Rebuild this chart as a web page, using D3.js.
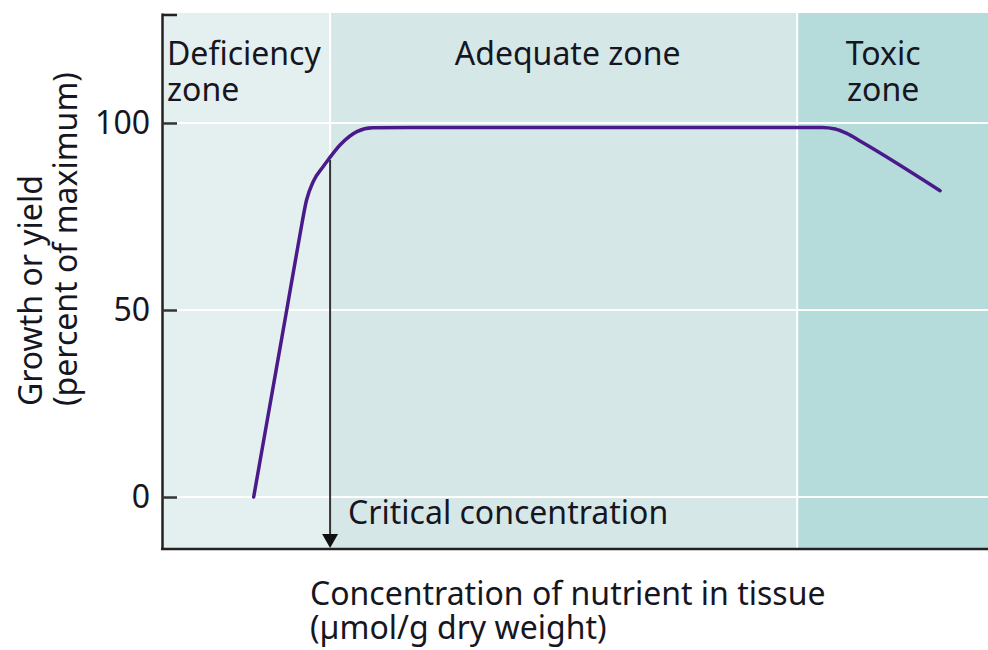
<!DOCTYPE html>
<html>
<head>
<meta charset="UTF-8">
<style>
  body { margin: 0; background: #fff; }
  svg { display: block; }
  text { font-family: "Noto Sans", "Open Sans", sans-serif; fill: #161622; }
</style>
<script src="https://d3js.org/d3.v7.min.js"></script>
</head>
<body>
<div id="chart"></div>
<script>

// zones along the concentration axis (arbitrary units 0-100)
var zoneNames = [["Deficiency", "zone"], ["Adequate zone"], ["Toxic", "zone"]];
var zoneStart = [0, 20.35, 76.9];
var zoneEnd = [20.35, 76.9, 100];
var zoneColors = ["#e4f0f0", "#d5e8e7", "#b5dcdb"];

// response curve
var concX = [11.1, 13.1, 15.1, 16.7, 17.5, 18.3, 19.5, 20.1, 21.55, 23.6, 25.5, 30, 50, 70, 79.9, 81.5, 82.9, 84.5, 94.2];
var growthY = [0, 25, 50, 70.1, 79.4, 84.3, 88.3, 90.1, 94.1, 97.7, 98.7, 98.8, 98.8, 98.8, 98.8, 98.4, 97.2, 95.2, 81.9];

var yTicks = [0, 50, 100];
var criticalX = 20.35;

var W = 988, H = 650;
// careful: "top" is taken by window.top
var mLeft = 162, mRight = 988, mTop = 13, mBottom = 549;
var fs = "32px";

var svg = d3.select("#chart").append("svg")
  .attr("width", W)
  .attr("height", H);

var x = d3.scaleLinear().domain([0, 100]).range([mLeft, mRight]);
var y = d3.scaleLinear().domain([-13.9, 129.4]).range([mBottom, mTop]);

// zone backgrounds
svg.selectAll("rect.zone")
  .data(zoneStart)
  .enter().append("rect")
  .attr("class", "zone")
  .attr("x", function(d) { return x(d); })
  .attr("y", mTop)
  .attr("width", function(d, i) { return x(zoneEnd[i]) - x(d); })
  .attr("height", mBottom - mTop)
  .style("fill", function(d, i) { return zoneColors[i]; });

// white grid lines
svg.selectAll("line.grid")
  .data(yTicks)
  .enter().append("line")
  .attr("class", "grid")
  .attr("x1", mLeft).attr("x2", mRight)
  .attr("y1", function(d) { return y(d); })
  .attr("y2", function(d) { return y(d); })
  .style("stroke", "#fff")
  .style("stroke-width", 2);

svg.selectAll("line.sep")
  .data(zoneStart.slice(1))
  .enter().append("line")
  .attr("class", "sep")
  .attr("x1", function(d) { return x(d); })
  .attr("x2", function(d) { return x(d); })
  .attr("y1", mTop).attr("y2", mBottom)
  .style("stroke", "#fff")
  .style("stroke-width", 2);

// zone labels
zoneNames.forEach(function(lines, i) {
  var cx, anchor;
  if (i == 0) { cx = x(zoneStart[0]) + 5; anchor = "start"; }
  else if (i == 1) { cx = (x(zoneStart[1]) + x(zoneEnd[1])) / 2 + 4; anchor = "middle"; }
  else { cx = x(zoneStart[2]) + 86; anchor = "middle"; }
  lines.forEach(function(t, j) {
    svg.append("text")
      .attr("x", cx)
      .attr("y", 65 + j * 36)
      .attr("text-anchor", anchor)
      .style("font-size", fs)
      .text(t);
  });
});

// y axis
var yAxis = d3.axisLeft(y)
  .tickValues(yTicks)
  .tickSize(-15)
  .tickPadding(12)
  .tickSizeOuter(0);

var gy = svg.append("g")
  .attr("transform", "translate(" + mLeft + ",0)")
  .call(yAxis);
gy.select(".domain").style("stroke", "#222").style("stroke-width", 2.5);
gy.selectAll(".tick line").style("stroke", "#333").style("stroke-width", 2.5);
gy.selectAll(".tick text")
  .style("font-size", fs)
  .style("font-family", "'Noto Sans', sans-serif")
  .attr("fill", "#161622");

// top end tick
svg.append("line")
  .attr("x1", mLeft).attr("x2", mLeft + 15)
  .attr("y1", mTop + 2).attr("y2", mTop + 2)
  .style("stroke", "#222").style("stroke-width", 2.5);

// bottom baseline
svg.append("line")
  .attr("x1", mLeft - 1).attr("x2", mRight)
  .attr("y1", mBottom).attr("y2", mBottom)
  .style("stroke", "#222").style("stroke-width", 2.5);

// critical concentration arrow
var critY = 90.1;
svg.append("line")
  .attr("x1", x(criticalX)).attr("x2", x(criticalX))
  .attr("y1", y(critY)).attr("y2", mBottom - 10)
  .style("stroke", "#333").style("stroke-width", 2);

svg.append("path")
  .attr("d", "M" + (x(criticalX) - 8) + "," + (mBottom - 15) +
             "L" + (x(criticalX) + 8) + "," + (mBottom - 15) +
             "L" + x(criticalX) + "," + (mBottom - 1) + "Z")
  .style("fill", "#111");

svg.append("text")
  .attr("x", x(criticalX) + 18)
  .attr("y", 524)
  .style("font-size", fs)
  .text("Critical concentration");

// the curve
var pts = concX.map(function(d, i) { return [d, growthY[i]]; });
var line = d3.line()
  .x(function(d) { return x(d[0]); })
  .y(function(d) { return y(d[1]); })
  .curve(d3.curveMonotoneX);

svg.append("path")
  .datum(pts)
  .attr("d", line)
  .style("fill", "none")
  .style("stroke", "#4a1a8a")
  .style("stroke-width", 3.5)
  .style("stroke-linecap", "round");

// axis titles
var yTitle = ["Growth or yield", "(percent of maximum)"];
yTitle.forEach(function(t, j) {
  svg.append("text")
    .attr("transform", "translate(" + (42 + j * 35) + ",406) rotate(-90)")
    .attr("text-anchor", "start")
    .style("font-size", fs)
    .text(t);
});

var xTitle = ["Concentration of nutrient in tissue", "(\u00b5mol/g dry weight)"];
xTitle.forEach(function(t, j) {
  svg.append("text")
    .attr("x", 310)
    .attr("y", 605 + j * 34)
    .style("font-size", fs)
    .text(t);
});

</script>
</body>
</html>
